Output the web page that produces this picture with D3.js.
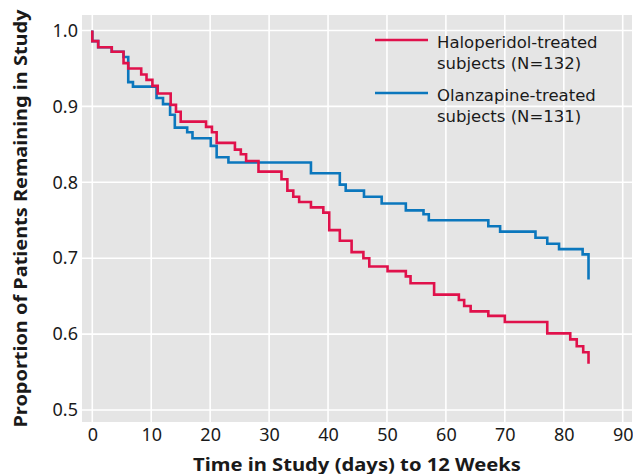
<!DOCTYPE html>
<html>
<head>
<meta charset="utf-8">
<script src="https://cdn.jsdelivr.net/npm/d3@7"></script>
<style>
  body { margin: 0; background: #fff; }
  text { font-family: "Noto Sans", "Open Sans", sans-serif; fill: #1a1a1a; }
  .legend text { font-family: "DejaVu Sans", sans-serif; }
</style>
</head>
<body>
<svg id="chart" width="633" height="474"></svg>
<script>
// Kaplan-Meier style retention curves (step at day -> new proportion)
const haloDays = [0, 0, 1.0, 3.3, 5.3, 6.1, 8.3, 9.2, 10.2, 11.1, 13.3, 14.2, 15.0, 19.3, 20.3, 21.1,
  24.2, 25.2, 26.1, 28.2, 32.1, 33.1, 34.1, 35.1, 37.1, 39.2, 40.2, 42.0, 44.0, 46.0, 47.0, 50.1,
  53.2, 54.0, 58.0, 62.2, 63.1, 64.2, 67.2, 70.0, 77.2, 81.1, 82.2, 83.3, 84.2];
const haloSurv = [1.0, 0.986, 0.978, 0.972, 0.957, 0.950, 0.942, 0.935, 0.927, 0.917, 0.902, 0.893, 0.880, 0.873, 0.866, 0.852,
  0.843, 0.837, 0.828, 0.814, 0.804, 0.789, 0.781, 0.774, 0.767, 0.760, 0.737, 0.723, 0.708, 0.700, 0.689, 0.683,
  0.676, 0.667, 0.652, 0.645, 0.637, 0.630, 0.624, 0.616, 0.601, 0.593, 0.584, 0.576, 0.561];

const olanDays = [0, 0, 1.0, 3.3, 5.3, 6.1, 6.9, 10.9, 12.0, 13.2, 14.0, 16.1, 17.0, 20.1, 21.1, 23.1,
  37.1, 42.0, 43.0, 46.1, 49.1, 53.2, 56.2, 57.1, 67.2, 69.2, 75.2, 77.2, 79.2, 83.2, 84.2];
const olanSurv = [1.0, 0.986, 0.978, 0.972, 0.965, 0.932, 0.926, 0.911, 0.903, 0.889, 0.872, 0.866, 0.858, 0.848, 0.833, 0.826,
  0.812, 0.797, 0.789, 0.781, 0.772, 0.763, 0.758, 0.750, 0.742, 0.735, 0.727, 0.719, 0.712, 0.705, 0.672];

const xTicks = [0, 10, 20, 30, 40, 50, 60, 70, 80, 90];
const yTicks = [0.5, 0.6, 0.7, 0.8, 0.9, 1.0];

const seriesNames = ["Haloperidol-treated", "Olanzapine-treated"];
const seriesN = ["subjects (N=132)", "subjects (N=131)"];
const seriesColors = ["#e0114b", "#0b77bd"];

const svg = d3.select('#chart');
const panel = { left: 82, right: 632, top: 15, bottom: 422 };

const x = d3.scaleLinear().domain([0, 90]).range([92.3, 622.7]);
const y = d3.scaleLinear().domain([0.5, 1.0]).range([410, 30.5]);

// panel background
svg.append('rect')
  .attr('x', panel.left)
  .attr('y', panel.top)
  .attr('width', panel.right - panel.left)
  .attr('height', panel.bottom - panel.top)
  .attr('fill', '#e5e5e5');

// grid lines
svg.append('g')
  .selectAll('line')
  .data(xTicks)
  .join('line')
  .attr('x1', d => x(d)).attr('x2', d => x(d))
  .attr('y1', panel.top).attr('y2', panel.bottom)
  .attr('stroke', '#fff').attr('stroke-width', 1.6);

svg.append('g')
  .selectAll('line')
  .data(yTicks)
  .join('line')
  .attr('x1', panel.left).attr('x2', panel.right)
  .attr('y1', d => y(d)).attr('y2', d => y(d))
  .attr('stroke', '#fff').attr('stroke-width', 1.6);

// axes (labels only, no domain line)
const xAxis = svg.append('g')
  .attr('transform', `translate(0,${panel.bottom})`)
  .call(d3.axisBottom(x).tickValues(xTicks).tickSize(0).tickPadding(6).tickFormat(d3.format('d')));
xAxis.select('.domain').remove();
xAxis.selectAll('text').attr('font-size', 18).attr('fill', '#1a1a1a').style('font-family', null);

const yAxis = svg.append('g')
  .attr('transform', `translate(${panel.left},0)`)
  .call(d3.axisLeft(y).tickValues(yTicks).tickSize(0).tickPadding(4).tickFormat(d3.format('.1f')));
yAxis.select('.domain').remove();
yAxis.selectAll('text').attr('font-size', 18).attr('fill', '#1a1a1a').style('font-family', null);

// curves
const line = d3.line()
  .x(d => x(d[0]))
  .y(d => y(d[1]))
  .curve(d3.curveStepAfter);

const series = [
  d3.zip(olanDays, olanSurv),
  d3.zip(haloDays, haloSurv)
];
const seriesCol = [seriesColors[1], seriesColors[0]];

svg.append('g')
  .selectAll('path')
  .data(series)
  .join('path')
  .attr('d', line)
  .attr('fill', 'none')
  .attr('stroke', (d, i) => seriesCol[i])
  .attr('stroke-width', 2.6);

// legend
const legend = svg.append('g').attr('class', 'legend');
[40, 93].forEach((ly, i) => {
  legend.append('line')
    .attr('x1', 375).attr('x2', 428)
    .attr('y1', ly).attr('y2', ly)
    .attr('stroke', seriesColors[i]).attr('stroke-width', 2.6);
  legend.append('text')
    .attr('x', 437).attr('y', ly + 7.5)
    .attr('font-size', 16.5)
    .text(seriesNames[i]);
  legend.append('text')
    .attr('x', 437).attr('y', ly + 29)
    .attr('font-size', 16.5)
    .text(seriesN[i]);
});

// axis titles
svg.append('text')
  .attr('x', (panel.left + panel.right) / 2)
  .attr('y', 470.5)
  .attr('text-anchor', 'middle')
  .attr('font-size', 18)
  .attr('font-weight', 'bold')
  .attr('textLength', 328)
  .attr('lengthAdjust', 'spacingAndGlyphs')
  .text('Time in Study (days) to 12 Weeks');

svg.append('text')
  .attr('transform', `translate(27,${(panel.top + panel.bottom) / 2}) rotate(-90)`)
  .attr('text-anchor', 'middle')
  .attr('font-size', 18)
  .attr('font-weight', 'bold')
  .attr('textLength', 418)
  .attr('lengthAdjust', 'spacingAndGlyphs')
  .text('Proportion of Patients Remaining in Study');
</script>
</body>
</html>
